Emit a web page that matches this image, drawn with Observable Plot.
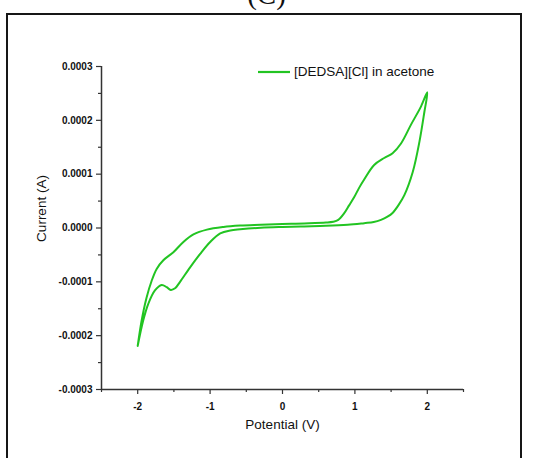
<!DOCTYPE html>
<html>
<head>
<meta charset="utf-8">
<script src="https://cdn.jsdelivr.net/npm/d3@7"></script>
<script src="https://cdn.jsdelivr.net/npm/@observablehq/plot@0.6"></script>
<style>
  body { margin: 0; background: #fff; overflow: hidden; }
  #wrap { position: relative; width: 533px; height: 458px; font-family: "Liberation Sans", Arial, sans-serif; color: #111; }
  #tag { position: absolute; left: 0; top: -22px; width: 533px; text-align: center; font: 29px "Liberation Serif", "Times New Roman", serif; color: #111; }
  #panel { position: absolute; left: 6px; top: 13px; width: 516px; height: 470px; border: 2px solid #161616; box-sizing: border-box; }
  #chart { position: absolute; left: 0; top: 0; }
  #legend { position: absolute; left: 258px; top: 64px; font-size: 13.5px; display: flex; align-items: center; white-space: nowrap; }
  #legend svg { margin-right: 4px; }
</style>
</head>
<body>
<div id="wrap">
  <div id="tag">(C)</div>
  <div id="panel"></div>
  <div id="chart"></div>
  <div id="legend"></div>
</div>
<script>
// Cyclic voltammogram of [DEDSA][Cl] in acetone, traced as one closed sweep:
// from the -2 V vertex up to +2 V, then back down to -2 V.
const potential = [
  -2.0, -1.946, -1.877, -1.807, -1.738, -1.646, -1.507, -1.369, -1.23, -1.044,
  -0.814, -0.583, -0.3, 0.0, 0.3, 0.6, 0.7, 0.77, 0.85, 0.92,
  0.989, 1.06, 1.128, 1.266, 1.405, 1.521, 1.637, 1.775, 1.914, 2.0,
  1.96, 1.891, 1.799, 1.683, 1.6, 1.52, 1.45, 1.36, 1.26, 1.128,
  0.9, 0.6, 0.3, 0.0, -0.3, -0.583, -0.721, -0.86, -0.999, -1.137,
  -1.276, -1.415, -1.484, -1.544, -1.599, -1.669, -1.762, -1.854, -1.924, -2.0
];
const current = [
  -0.000219, -0.000172, -0.000129, -0.000098, -0.000076, -0.000060, -0.000045, -0.000026, -0.000012, -0.000003,
  0.000002, 0.0000045, 0.000006, 0.0000075, 0.0000085, 0.000010, 0.0000115, 0.000015, 0.000027, 0.000042,
  0.000057, 0.000075, 0.000090, 0.000117, 0.000130, 0.000139, 0.000157, 0.000192, 0.000226, 0.000252,
  0.000216, 0.000160, 0.000104, 0.000061, 0.000042, 0.000028, 0.000021, 0.000015, 0.000011, 0.000009,
  0.000006, 0.000004, 0.000003, 0.000002, 0.0000005, -0.0000024, -0.0000045, -0.000010, -0.000026, -0.000048,
  -0.000073, -0.000100, -0.000112, -0.000115, -0.000110, -0.000106, -0.000116, -0.000141, -0.000172, -0.000219
];

// Axis ticks
const xTicks = [-2, -1, 0, 1, 2];
const xMinorTicks = [-2.5, -1.5, -0.5, 0.5, 1.5, 2.5];
const yTicks = [-0.0003, -0.0002, -0.0001, 0, 0.0001, 0.0002, 0.0003];
const yMinorTicks = [-0.00025, -0.00015, -0.00005, 0.00005, 0.00015, 0.00025];

const seriesName = "[DEDSA][Cl] in acetone";
const lineColor = "#22c422";
const axisColor = "#333";

const trace = potential.map((v, i) => ({ potential: v, current: current[i] }));

const chart = Plot.plot({
  width: 533,
  height: 458,
  marginLeft: 101,
  marginRight: 70,
  marginTop: 66,
  marginBottom: 69,
  style: { fontFamily: "'Liberation Sans', Arial, sans-serif", background: "transparent", color: "#111" },
  x: { domain: [-2.5, 2.5] },
  y: { domain: [-0.0003, 0.0003] },
  marks: [
    Plot.ruleX([-2.5], { stroke: axisColor, strokeWidth: 1.5 }),
    Plot.ruleY([-0.0003], { stroke: axisColor, strokeWidth: 1.5 }),
    Plot.axisY(yTicks, {
      tickSize: 5, tickPadding: 4, stroke: axisColor, strokeWidth: 1.2,
      tickFormat: d => d.toFixed(4), fontWeight: "bold", fontSize: 10, label: null
    }),
    Plot.axisY(yMinorTicks, { tickSize: 3, stroke: axisColor, strokeWidth: 1.2, tickFormat: null, text: null, label: null }),
    Plot.axisX(xTicks, {
      tickSize: 5, tickPadding: 8, stroke: axisColor, strokeWidth: 1.2,
      tickFormat: d => String(d), fontWeight: "bold", fontSize: 10, label: null
    }),
    Plot.axisX(xMinorTicks, { tickSize: 3, stroke: axisColor, strokeWidth: 1.2, tickFormat: null, text: null, label: null }),
    Plot.text(["Current (A)"], {
      frameAnchor: "left", textAnchor: "middle", rotate: -90, dx: -60, dy: -19.5, fontSize: 13.5,
      style: "letter-spacing:1.4px"
    }),
    Plot.text(["Potential (V)"], { frameAnchor: "bottom", dy: 39, fontSize: 13.5 }),
    Plot.line(trace, {
      x: "potential", y: "current", stroke: lineColor, strokeWidth: 2,
      curve: "catmull-rom"
    })
  ]
});
document.getElementById("chart").appendChild(chart);

const legend = document.getElementById("legend");
legend.innerHTML =
  `<svg width="32" height="4"><line x1="0" y1="2" x2="32" y2="2" stroke="${lineColor}" stroke-width="2.2"/></svg>` +
  `<span></span>`;
legend.querySelector("span").textContent = seriesName;
</script>
</body>
</html>
